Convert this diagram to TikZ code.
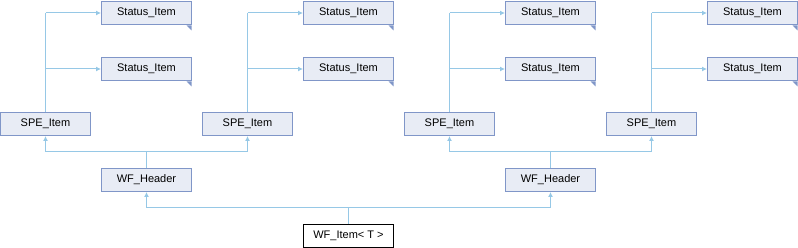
\documentclass[tikz,border=0pt]{standalone}
\usepackage{fontspec}
\setmainfont{Liberation Sans}
\usetikzlibrary{arrows.meta}
\definecolor{boxfill}{RGB}{232,236,245}
\definecolor{boxline}{RGB}{128,150,200}
\definecolor{edge}{RGB}{150,200,230}
\begin{document}
\begin{tikzpicture}[x=1pt,y=-1pt,
  cls/.style={draw=boxline,fill=boxfill,line width=1pt,minimum width=90pt,minimum height=23pt,inner sep=0pt,anchor=north west,font=\fontsize{11}{13}\selectfont},
  trunc/.style={cls,append after command={\pgfextra{\fill[boxline] (\tikzlastnode.south east) ++(-0.5pt,-0.5pt) -- ++(-5pt,0) -- ++(5pt,-5pt) -- cycle;}}},
  main/.style={draw=black,fill=white,line width=1pt,minimum width=90pt,minimum height=23pt,inner sep=0pt,anchor=north west,font=\fontsize{11}{13}\selectfont},
  inh/.style={draw=edge,line width=1pt,-{Latex[length=5pt,width=5pt]}},
  ln/.style={draw=edge,line width=1pt}]
\useasboundingbox (0,0) rectangle (798,248);
% Status items
\foreach \i/\x in {1/101,2/303,3/505,4/707}{
  \node[trunc] (sa\i) at (\x,1) {Status\_Item};
  \node[trunc] (sb\i) at (\x,57) {Status\_Item};
}
% SPE items
\foreach \i/\x in {1/0,2/202,3/404,4/606}{
  \node[cls] (spe\i) at (\x,112) {SPE\_Item};
}
\node[cls] (wf1) at (101,168) {WF\_Header};
\node[cls] (wf2) at (505,168) {WF\_Header};
\node[main] (item) at (303,224) {WF\_Item< T >};
% SPE -> Status
\foreach \i in {1,2,3,4}{
  \coordinate (ta\i) at (spe\i.north |- sa\i.west);
  \coordinate (tb\i) at (spe\i.north |- sb\i.west);
  \draw[ln] (spe\i.north) -- (ta\i);
  \draw[inh] (ta\i) -- (sa\i.west);
  \draw[inh] (tb\i) -- (sb\i.west);
}
% WF_Header -> SPE
\coordinate (h1) at (wf1.north |- 0,152);
\coordinate (h2) at (wf2.north |- 0,152);
\draw[ln] (wf1.north) -- (h1);
\draw[ln] (wf2.north) -- (h2);
\draw[inh] (h1) -| (spe1.south);
\draw[inh] (h1) -| (spe2.south);
\draw[inh] (h2) -| (spe3.south);
\draw[inh] (h2) -| (spe4.south);
% WF_Item -> WF_Header
\coordinate (m) at (item.north |- 0,208);
\draw[ln] (item.north) -- (m);
\draw[inh] (m) -| (wf1.south);
\draw[inh] (m) -| (wf2.south);
\end{tikzpicture}
\end{document}
